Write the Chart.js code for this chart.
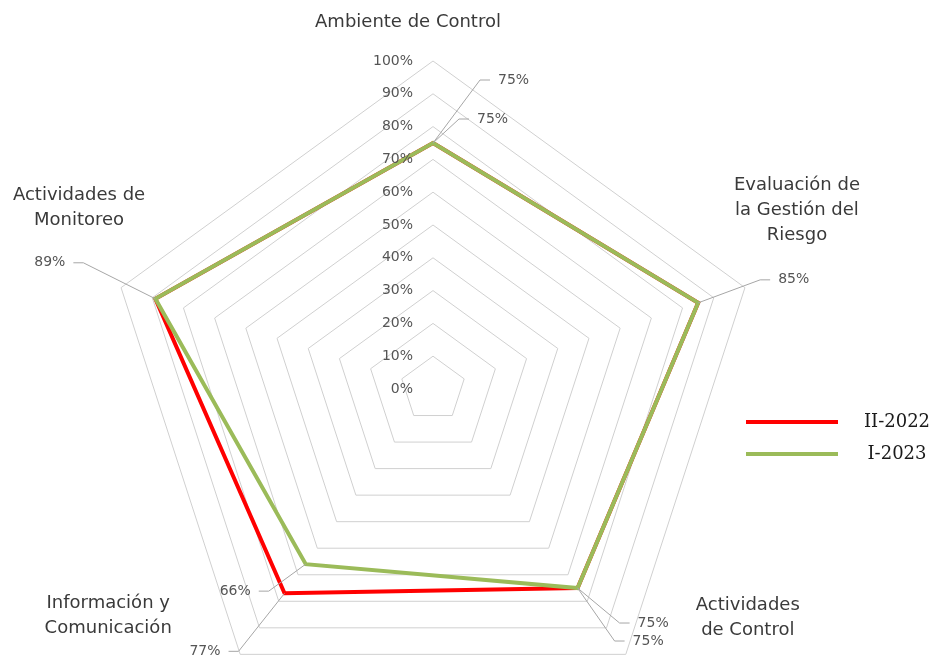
<!DOCTYPE html>
<html>
<head>
<meta charset="utf-8">
<script src="https://cdn.jsdelivr.net/npm/chart.js@4"></script>
<style>
  html, body { margin: 0; padding: 0; background: #fff; overflow: hidden; }
  #wrap { width: 935px; height: 717px; position: relative; }
</style>
</head>
<body>
<div id="wrap"><canvas id="myChart"></canvas></div>
<script>
// data
const categories = [
    ['Ambiente de Control'],
    ['Evaluación de', 'la Gestión del', 'Riesgo'],
    ['Actividades', 'de Control'],
    ['Información y', 'Comunicación'],
    ['Actividades de', 'Monitoreo']
];
const seriesNames = ['II-2022', 'I-2023'];
const ii2022 = [75, 85, 75, 77, 89];
const i2023 = [75, 85, 75, 66, 89];
const tickValues = [0, 10, 20, 30, 40, 50, 60, 70, 80, 90, 100];
const tickLabels = ['0%', '10%', '20%', '30%', '40%', '50%', '60%', '70%', '80%', '90%', '100%'];

// layout of texts (px offsets, not data)
const categoryOffsets = [[-25, -39], [52, -77], [122, -37], [-132, -39], [-42, -80]];
// data label: [dx, dy, side] from the point, null = hidden (overlaps other series)
const labelOffsets = [
    [[65, -63, 1], null, [60, 35, 1], [-64, 58, -1], [-90, -36, -1]],
    [[44, -24, 1], [80, -23, 1], [55, 53, 1], [-55, 27, -1], null]
];
const colors = ['#ff0000', '#9bbb59'];

const sansFont = '"DejaVu Sans", sans-serif';

const excelLabels = {
    id: 'excelLabels',
    afterDraw(chart) {
        const s = chart.scales.r;
        const ctx = chart.ctx;
        ctx.save();

        // axis ticks
        ctx.font = '14px ' + sansFont;
        ctx.fillStyle = '#555555';
        ctx.textAlign = 'right';
        ctx.textBaseline = 'middle';
        tickValues.forEach((v, i) => {
            const d = s.getDistanceFromCenterForValue(v);
            ctx.fillText(tickLabels[i], s.xCenter - 20, s.yCenter - d);
        });

        // category labels
        ctx.font = '18px ' + sansFont;
        ctx.fillStyle = '#3a3a3a';
        ctx.textAlign = 'center';
        categories.forEach((lines, i) => {
            const p = s.getPointPosition(i, s.drawingArea);
            const cx = p.x + categoryOffsets[i][0];
            const cy = p.y + categoryOffsets[i][1];
            const lh = 25;
            lines.forEach((t, j) => {
                ctx.fillText(t, cx, cy + (j - (lines.length - 1) / 2) * lh);
            });
        });

        // data labels with leader lines
        ctx.font = '14px ' + sansFont;
        chart.data.datasets.forEach((ds, k) => {
            ds.data.forEach((v, i) => {
                const o = labelOffsets[k][i];
                if (!o) return;
                const p = s.getPointPositionForValue(i, v);
                const ax = p.x + o[0];
                const ay = p.y + o[1];
                ctx.strokeStyle = '#a6a6a6';
                ctx.lineWidth = 1;
                ctx.beginPath();
                ctx.moveTo(p.x, p.y);
                ctx.lineTo(ax - o[2] * 18, ay);
                ctx.lineTo(ax - o[2] * 8, ay);
                ctx.stroke();
                ctx.fillStyle = '#555555';
                ctx.textAlign = o[2] > 0 ? 'left' : 'right';
                ctx.fillText(v + '%', ax, ay);
            });
        });

        // legend
        const legendY = [422, 454];
        seriesNames.forEach((name, k) => {
            ctx.strokeStyle = colors[k];
            ctx.lineWidth = 4;
            ctx.beginPath();
            ctx.moveTo(746, legendY[k]);
            ctx.lineTo(838, legendY[k]);
            ctx.stroke();
            ctx.font = '18px "DejaVu Serif", serif';
            ctx.fillStyle = '#1a1a1a';
            ctx.textAlign = 'center';
            ctx.fillText(name, 897, legendY[k]);
        });
        ctx.restore();
    }
};

new Chart(document.getElementById('myChart'), {
    type: 'radar',
    data: {
        labels: categories,
        datasets: [
            {
                label: seriesNames[0],
                data: ii2022,
                borderColor: colors[0],
                borderWidth: 4,
                pointRadius: 0,
                fill: false,
                order: 1
            },
            {
                label: seriesNames[1],
                data: i2023,
                borderColor: colors[1],
                borderWidth: 4,
                pointRadius: 0,
                fill: false,
                order: 0
            }]
    },
    options: {
        responsive: true,
        maintainAspectRatio: false,
        animation: false,
        layout: {
            padding: { top: 61, left: 105, right: 174, bottom: 0 }
        },
        plugins: {
            legend: { display: false },
            tooltip: { enabled: false }
        },
        elements: { line: { tension: 0, borderJoinStyle: 'miter' } },
        scales: {
            r: {
                min: 0,
                max: 100,
                ticks: { display: false, stepSize: 10 },
                pointLabels: { display: false },
                angleLines: { display: false },
                grid: { color: '#d0d0d0', lineWidth: 1 }
            }
        }
    },
    plugins: [excelLabels]
});
</script>
</body>
</html>
